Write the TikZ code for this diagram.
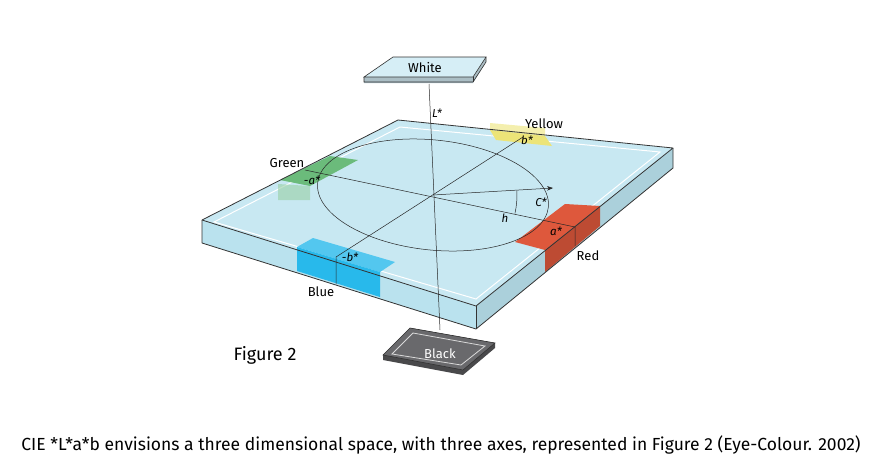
\documentclass[tikz,border=0pt]{standalone}
\usepackage{fontspec}
\setmainfont{Fira Sans}
\usetikzlibrary{arrows.meta}

\definecolor{slabtop}{RGB}{200,232,242}
\definecolor{slabside}{RGB}{186,226,238}
\definecolor{tilewhite}{RGB}{214,238,246}
\definecolor{tileblack}{RGB}{105,105,108}
\definecolor{cblue}{RGB}{40,185,235}
\definecolor{cred}{RGB}{222,88,60}
\definecolor{cgreen}{RGB}{70,170,90}
\definecolor{cyellow}{RGB}{236,228,120}

\tikzset{
  lab/.style={font=\fontsize{13}{15}\selectfont, inner sep=1pt},
  axlab/.style={font=\fontsize{11.5}{13}\selectfont\itshape, inner sep=1pt},
  edge/.style={draw=black!80, line width=0.8pt, line join=round},
  axis/.style={draw=black!85, line width=0.5pt}
}

\begin{document}
\begin{tikzpicture}[x=1pt, y=-1pt]
\useasboundingbox (0,0) rectangle (890,474);

% slab corners
\coordinate (SL) at (202,220);
\coordinate (SB) at (398,120);
\coordinate (SR) at (673,148);
\coordinate (SF) at (476,306);
\coordinate (SLd) at (202,243);
\coordinate (SRd) at (673,168);
\coordinate (SFd) at (476,329);

% black tile (below slab)
\fill[tileblack!70!black] (383,355) -- (410,328) -- (495,343) -- (495,348) -- (463,375) -- (383,360) -- cycle;
\filldraw[fill=tileblack, draw=black!80, line width=0.6pt] (383,355) -- (410,328) -- (495,343) -- (463,370) -- cycle;
\draw[white!85!black, line width=0.8pt] (392,354) -- (413,333) -- (485,346) -- (461,365) -- cycle;
\node[lab, text=white] (black) at (440,354) {Black};

% slab
\fill[slabside] (SL) -- (SF) -- (SFd) -- (SLd) -- cycle;
\fill[slabside!92!black] (SF) -- (SR) -- (SRd) -- (SFd) -- cycle;
\fill[slabtop] (SL) -- (SB) -- (SR) -- (SF) -- cycle;
\draw[white, line width=1pt] (214,222) -- (400,127) -- (660,152) -- (476,299) -- cycle;

% colour patches
\fill[cgreen!55, opacity=0.6] (278,184) -- (310,186) -- (310,200) -- (278,200) -- cycle;
\fill[cgreen!80] (280,180) -- (330,156) -- (358,160) -- (310,186) -- cycle;
\fill[cyellow!60] (490,123) -- (545,128) -- (545,136) -- (490,130) -- cycle;
\fill[cyellow] (490,130) -- (545,136) -- (552,146) -- (496,140) -- cycle;
\fill[cblue!80] (297,247) -- (313,238) -- (395,262) -- (380,272) -- cycle;
\fill[cblue] (297,247) -- (380,272) -- (380,297) -- (297,271) -- cycle;
\fill[cred] (515,242) -- (565,204) -- (600,206) -- (545,250) -- cycle;
\fill[cred!85!black] (545,250) -- (600,206) -- (600,226) -- (545,272) -- cycle;

% slab outline
\draw[edge] (SL) -- (SB) -- (SR) -- (SF) -- cycle;
\draw[edge] (SL) -- (SLd) -- (SFd) -- (SRd) -- (SR);
\draw[edge] (SF) -- (SFd);

% white tile
\fill[tilewhite!80!black] (364,77) -- (473,77) -- (486,57) -- (486,62) -- (473,83) -- (364,83) -- cycle;
\filldraw[fill=tilewhite, draw=black!80, line width=0.6pt] (364,77) -- (393,57) -- (486,57) -- (473,77) -- cycle;
\draw[black!80, line width=0.6pt] (364,77) -- (364,82) -- (473,82) -- (486,62) -- (486,57);
\draw[black!80, line width=0.6pt] (473,77) -- (473,82);
\node[lab] (white) at (425,68) {White};

% axes
\coordinate (O) at (433,195);
\coordinate (Ltop) at (429,84);
\coordinate (Lbot) at (440,330);
\coordinate (Gr) at (305,170);
\coordinate (Rd) at (575,227);
\coordinate (Rdd) at (575,246);
\coordinate (Ye) at (523,137);
\coordinate (Bl) at (336,257);
\coordinate (Bld) at (336,284);
\coordinate (Cs) at (553,188);
\draw[axis] (Ltop) -- (Lbot);
\draw[axis] (Gr) -- (Rd) -- (Rdd);
\draw[axis] (Ye) -- (Bl) -- (Bld);
\draw[axis, rotate around={-6:(O)}] (O) ellipse [x radius=116, y radius=55];
\draw[axis, -{Stealth[length=6pt]}] (O) -- (Cs);
\draw[axis] ([shift={(12.7:84)}]O) arc[start angle=12.7, end angle=-3, radius=84];

% labels
\node[lab] (green) at (287,163) {Green};
\node[lab] (yellow) at (544,124) {Yellow};
\node[lab] (red) at (588,256) {Red};
\node[lab] (blue) at (321,292) {Blue};
\node[axlab] (ma) at (312,180) {-a*};
\node[axlab] (pb) at (527,140) {b*};
\node[axlab] (pa) at (556,231) {a*};
\node[axlab] (mb) at (350,257) {-b*};
\node[axlab] (ls) at (437,113) {L*};
\node[axlab] (cs) at (541,202) {C*};
\node[axlab] (hh) at (505,218) {h};

\node[font=\fontsize{18}{21}\selectfont] (fig) at (265,355) {Figure 2};
\node[font=\fontsize{17.5}{20}\selectfont] (cap) at (441,445) {CIE *L*a*b envisions a three dimensional space, with three axes, represented in Figure 2 (Eye-Colour. 2002)};
\end{tikzpicture}
\end{document}
